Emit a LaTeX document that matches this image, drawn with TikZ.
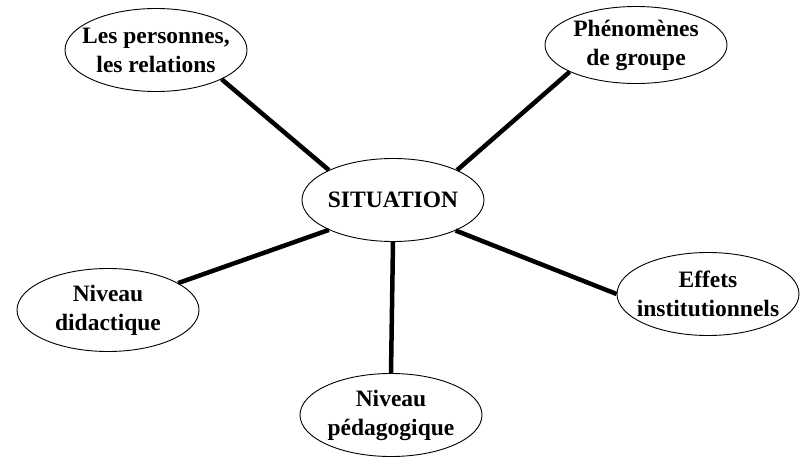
\documentclass[tikz,border=0pt]{standalone}
\usepackage{fontspec}
\setmainfont{Liberation Serif}
\usetikzlibrary{shapes.geometric}
\tikzstyle{theme}=[
  ellipse,
  draw=black,
  line width=0.9pt,
  font={\fontsize{23.5}{29}\selectfont\bfseries},
  align=center,
  inner xsep=-12pt,
  inner ysep=0pt,
  minimum width=182pt,
  minimum height=83pt,
]
\tikzstyle{link}=[
  draw=black,
  line width=4.5pt,
]
\begin{document}
\begin{tikzpicture}[x=1pt,y=-1pt]
  \useasboundingbox (0,0) rectangle (801,460);
  \node (situation) [theme] at (393,200) {SITUATION};
  %%
  \node (personnes) [theme] at (156,50) {Les personnes,\\les relations};
  \node (phenomenes) [theme, minimum height=77pt] at (636,45) {Phénomènes\\de groupe};
  \node (didactique) [theme] at (108,310) {Niveau\\didactique};
  \node (effets) [theme] at (708,294) {Effets\\institutionnels};
  \node (pedagogique) [theme] at (391,415) {Niveau\\pédagogique};
  %%
  \draw [link] (personnes.-24) -- (situation.155);
  \draw [link] (phenomenes.202) -- (situation.25);
  \draw [link] (didactique.21) -- (situation.205);
  \draw [link] (effets.180) -- (situation.-26);
  \draw [link] (situation.south) -- (pedagogique.north);
\end{tikzpicture}
\end{document}
